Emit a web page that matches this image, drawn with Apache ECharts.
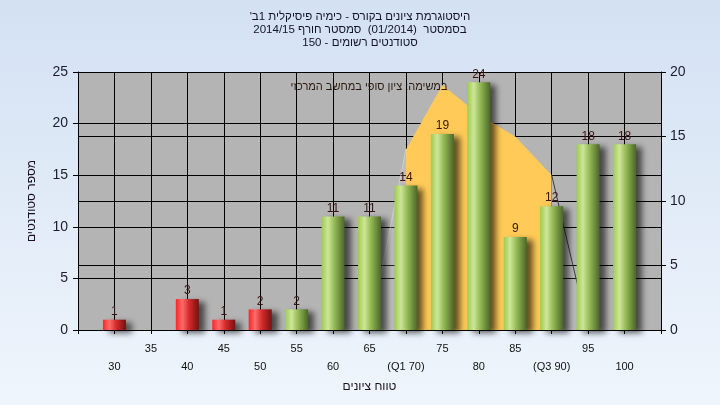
<!DOCTYPE html>
<html>
<head>
<meta charset="utf-8">
<script src="https://cdn.jsdelivr.net/npm/echarts@6/dist/echarts.min.js"></script>
<style>
html,body{margin:0;padding:0;}
#c{width:720px;height:405px;}
</style>
</head>
<body>
<div id="c"></div>
<script>
// ---- data ----
const categories = [30, 35, 40, 45, 50, 55, 60, 65, 70, 75, 80, 85, 90, 95, 100];
const counts = [1, 0, 3, 1, 2, 2, 11, 11, 14, 19, 24, 9, 12, 18, 18];
const tickLabels = ['30', '35', '40', '45', '50', '55', '60', '65', '(Q1 70)', '75', '80', '85', '(Q3 90)', '95', '100'];
const passMark = 55;
const curveX = [65, 70, 75, 80, 85, 90, 95];
const curveY = [0, 14, 19, 16.7, 15, 12, 0];
const q1 = 70;
const q3 = 90;
const titleLines = [
  "היסטוגרמת ציונים בקורס - כימיה פיסיקלית 1ב'\u200F",
  "בסמסטר  (01/2014)  סמסטר חורף 2014/15",
  "סטודנטים רשומים - 150"
];
const legendText = "במשימה: ציון סופי במחשב המרכזי";
const xTitle = "טווח ציונים";
const yTitle = "מספר סטודנטים";

// ---- chart ----
const FONT = "'Liberation Sans','DejaVu Sans',Arial,sans-serif";
const chart = echarts.init(document.getElementById('c'), null, {renderer: 'canvas'});

const greenGrad = new echarts.graphic.LinearGradient(0, 0, 1, 0, [
  {offset: 0, color: '#9fcb4e'},
  {offset: 0.28, color: '#cde699'},
  {offset: 0.55, color: '#96bb56'},
  {offset: 1, color: '#4b6629'}
]);
const redGrad = new echarts.graphic.LinearGradient(0, 0, 1, 0, [
  {offset: 0, color: '#ff2424'},
  {offset: 0.28, color: '#ff6c6c'},
  {offset: 0.58, color: '#d42a2a'},
  {offset: 1, color: '#761111'}
]);

const barData = categories.map((c, i) => ({
  value: [c, counts[i]],
  itemStyle: {color: c < passMark ? redGrad : greenGrad}
}));

const pts = curveX.map((x, i) => [x, curveY[i]]);
const leftSeg = pts.filter(p => p[0] <= q1);
const midSeg = pts.filter(p => p[0] >= q1 && p[0] <= q3);
const rightSeg = pts.filter(p => p[0] >= q3);

const graphics = titleLines.map((t, i) => ({
  type: 'text', left: 'center', top: 11 + i * 13, z: 10,
  style: {text: t, font: '11.5px ' + FONT, fill: '#141428'}
}));
graphics.push({
  type: 'text', x: 369, y: 87, z: 10,
  style: {text: legendText, font: '11px ' + FONT, fill: '#2a1a10', align: 'center', verticalAlign: 'middle'}
});

chart.setOption({
  animation: false,
  backgroundColor: new echarts.graphic.LinearGradient(0, 0, 0, 1, [
    {offset: 0, color: '#d3e1f3'},
    {offset: 1, color: '#eff5fc'}
  ]),
  textStyle: {fontFamily: FONT},
  graphic: graphics,
  grid: {left: 78, right: 59, top: 72, bottom: 75, show: true, backgroundColor: '#b4b4b4', borderWidth: 0},
  xAxis: {
    type: 'value', min: 25, max: 105, interval: 5,
    name: xTitle, nameLocation: 'middle', nameGap: 45,
    nameTextStyle: {fontSize: 12, color: '#1a1020', fontFamily: FONT},
    axisLine: {show: true, lineStyle: {color: '#000', width: 1}},
    axisTick: {show: true, length: 4, lineStyle: {color: '#000'}},
    splitLine: {show: true, lineStyle: {color: '#000', width: 1}},
    axisLabel: {
      fontSize: 11, color: '#111', margin: 10, lineHeight: 18, fontFamily: FONT,
      formatter: function (v) {
        const i = categories.indexOf(v);
        if (i < 0) return '';
        return (categories[i] % 10 === 0) ? '\n' + tickLabels[i] : tickLabels[i];
      }
    }
  },
  yAxis: [
    {
      type: 'value', min: 0, max: 25, interval: 5, position: 'left',
      name: yTitle, nameLocation: 'middle', nameGap: 40, nameRotate: 90,
      nameTextStyle: {fontSize: 12, color: '#1a1020', fontFamily: FONT},
      axisLine: {show: true, lineStyle: {color: '#000'}},
      axisTick: {show: true, length: 5, lineStyle: {color: '#000'}},
      splitLine: {show: true, lineStyle: {color: '#000', width: 1}},
      axisLabel: {fontSize: 14, color: '#1c1c30', margin: 10, fontFamily: FONT}
    },
    {
      type: 'value', min: 0, max: 20, interval: 5, position: 'right',
      axisLine: {show: true, lineStyle: {color: '#000'}},
      axisTick: {show: true, length: 5, lineStyle: {color: '#000'}},
      splitLine: {show: true, lineStyle: {color: '#000', width: 1}},
      axisLabel: {fontSize: 14, color: '#1c1c30', margin: 9, fontFamily: FONT}
    }
  ],
  series: [
    {
      type: 'line', yAxisIndex: 1, data: leftSeg, symbol: 'none', z: 1,
      lineStyle: {color: 'rgba(230,230,230,0.5)', width: 1},
      areaStyle: {color: 'rgba(255,255,255,0.18)'}
    },
    {
      type: 'line', yAxisIndex: 1, data: midSeg, symbol: 'none', z: 1,
      lineStyle: {width: 0},
      areaStyle: {color: '#ffca57', opacity: 1}
    },
    {
      type: 'line', yAxisIndex: 1, data: rightSeg, symbol: 'none', z: 1,
      lineStyle: {color: '#3c3c3c', width: 1},
      areaStyle: {color: 'rgba(255,255,255,0.1)'}
    },
    {
      type: 'bar', yAxisIndex: 0, data: barData, barWidth: 23, z: 3,
      itemStyle: {shadowColor: 'rgba(0,0,0,0.6)', shadowBlur: 6, shadowOffsetX: 6, shadowOffsetY: 3},
      label: {
        show: true, position: 'top', distance: 2, fontSize: 12, color: '#3a1414', fontFamily: FONT,
        formatter: p => (p.value[1] > 0 ? String(p.value[1]) : '')
      }
    }
  ]
});
</script>
</body>
</html>
